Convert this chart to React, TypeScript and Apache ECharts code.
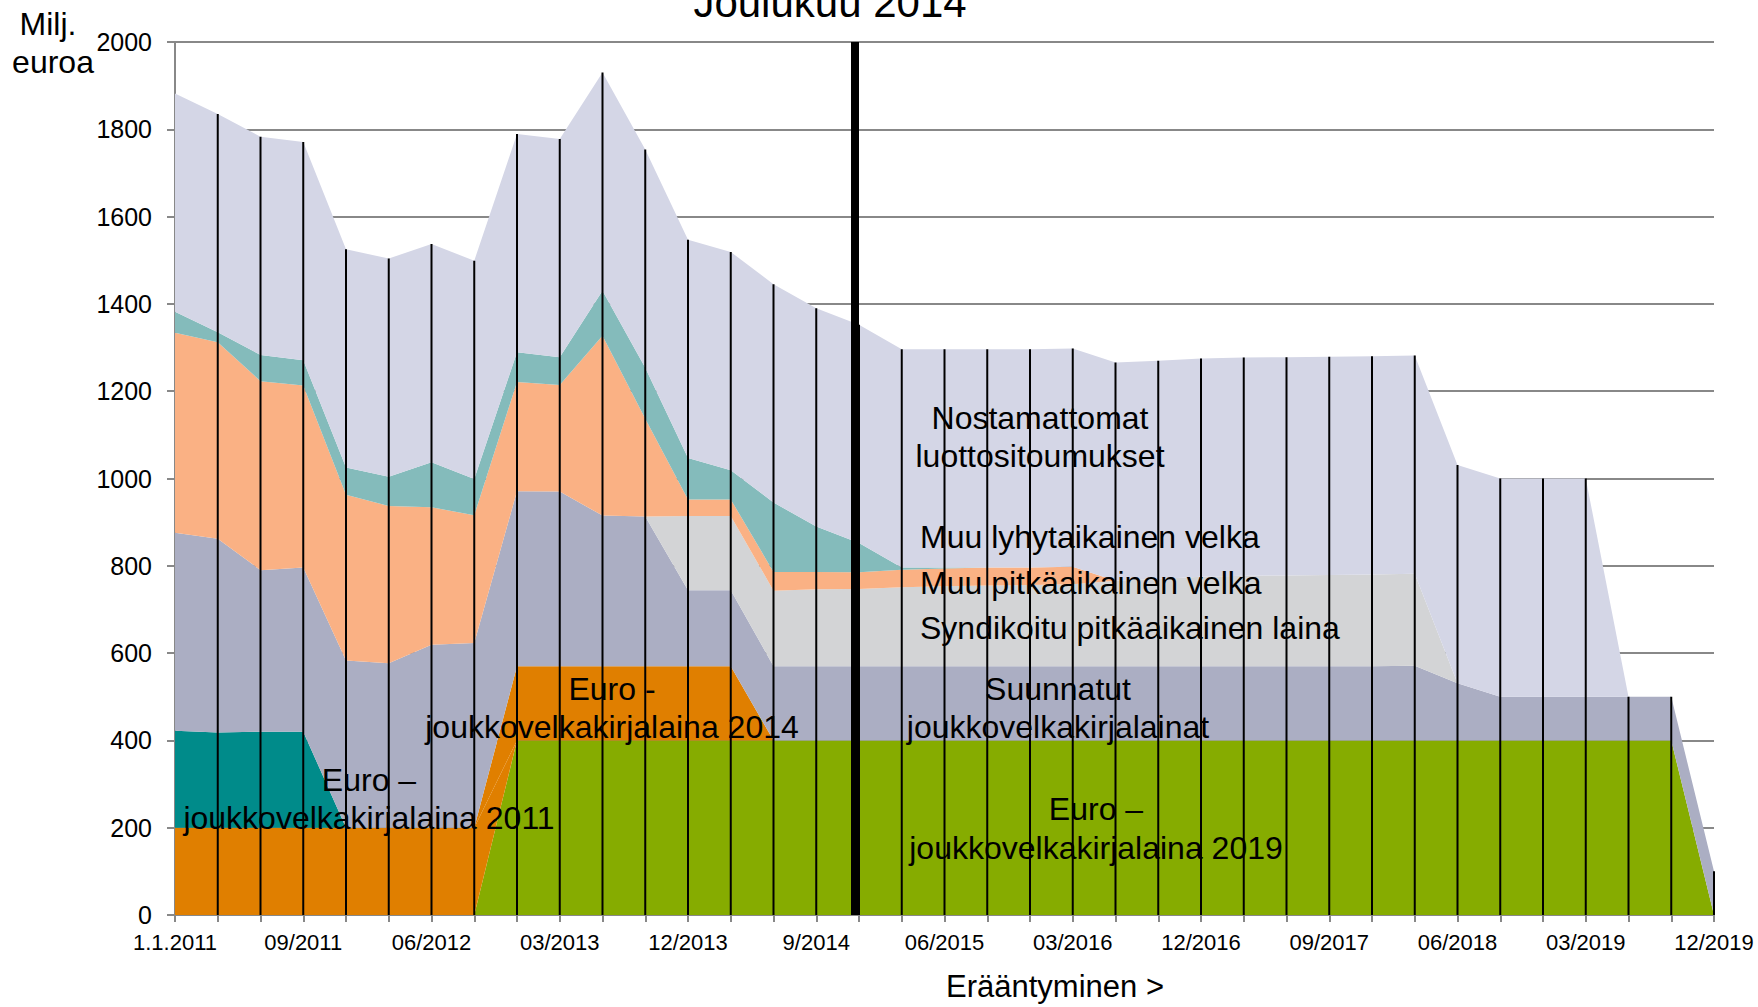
import React, { useEffect, useRef } from "react";
import * as echarts from "echarts";

const FONT = "'Liberation Sans', Arial, sans-serif";

const categories = [
  "1.1.2011", "03/2011", "06/2011", "09/2011", "12/2011",
  "03/2012", "06/2012", "09/2012", "12/2012",
  "03/2013", "06/2013", "09/2013", "12/2013",
  "03/2014", "06/2014", "9/2014", "12/2014",
  "03/2015", "06/2015", "09/2015", "12/2015",
  "03/2016", "06/2016", "09/2016", "12/2016",
  "03/2017", "06/2017", "09/2017", "12/2017",
  "03/2018", "06/2018", "09/2018", "12/2018",
  "03/2019", "06/2019", "09/2019", "12/2019",
];

// Current moment marker (Joulukuu 2014)
const currentCategory = "12/2014";

// Stacked series, bottom to top (Milj. euroa)
const euroBond2019 = [
  0, 0, 0, 0, 0, 0, 0, 0,
  400, 400, 400, 400, 400, 400, 400, 400, 400, 400, 400, 400, 400, 400,
  400, 400, 400, 400, 400, 400, 400, 400, 400, 400, 400, 400, 400, 400,
  0,
];
const euroBond2011 = [
  200, 200, 200, 200, 200, 200, 200, 200,
  0, 0, 0, 0, 0, 0, 0, 0, 0, 0, 0, 0, 0, 0, 0, 0, 0, 0, 0, 0, 0, 0, 0, 0, 0, 0, 0, 0, 0,
];
const euroBond2014 = [
  0, 0, 0, 0, 0, 0, 0, 0,
  170, 170, 170, 170, 170, 170,
  0, 0, 0, 0, 0, 0, 0, 0, 0, 0, 0, 0, 0, 0, 0, 0, 0, 0, 0, 0, 0, 0, 0,
];
const otherBonds = [
  222, 218, 220, 220,
  0, 0, 0, 0, 0, 0, 0, 0, 0, 0, 0, 0, 0, 0, 0, 0, 0, 0, 0, 0, 0, 0, 0, 0, 0, 0, 0, 0, 0, 0, 0, 0, 0,
];
const directedBonds = [
  454, 444, 370, 376, 383, 377, 419, 423, 401, 400, 345, 343, 174, 174,
  170, 170, 170, 170, 170, 170, 170, 170, 170, 170, 170, 170, 170, 170, 170, 171,
  131, 100, 100, 100, 100, 100, 100,
];
const syndicatedLoan = [
  0, 0, 0, 0, 0, 0, 0, 0, 0, 0, 0, 0,
  170, 170, 173, 176, 177, 181, 183, 185, 186, 188,
  196, 200, 205, 207, 208, 209, 210, 211,
  0, 0, 0, 0, 0, 0, 0,
];
const otherLongTerm = [
  458, 450, 433, 417, 380, 360, 315, 293, 250, 244, 412, 224, 38, 38,
  43, 40, 38, 40, 41, 41, 40, 40,
  0, 0, 0, 0, 0, 0, 0, 0, 0, 0, 0, 0, 0, 0, 0,
];
const otherShortTerm = [
  48, 23, 60, 58, 62, 67, 103, 83, 68, 64, 103, 117, 95, 67, 159, 104, 67, 5, 2,
  0, 0, 0, 0, 0, 0, 0, 0, 0, 0, 0, 0, 0, 0, 0, 0, 0, 0,
];
const undrawnCommitments = [
  500, 500, 500, 500, 500, 500, 500, 500, 500, 500, 500, 500, 500, 500, 500, 500, 500,
  500, 500, 500, 500, 500, 500, 500, 500, 500, 500, 500, 500, 500, 500, 500, 500, 500,
  0, 0, 0,
];

const stackSeries = [
  { name: "Euro – joukkovelkakirjalaina 2019", data: euroBond2019, color: "#86AC00" },
  { name: "Euro – joukkovelkakirjalaina 2011", data: euroBond2011, color: "#E07F00" },
  { name: "Euro - joukkovelkakirjalaina 2014", data: euroBond2014, color: "#E07F00" },
  { name: "Muu joukkovelkakirjalaina", data: otherBonds, color: "#008B8A" },
  { name: "Suunnatut joukkovelkakirjalainat", data: directedBonds, color: "#ABAEC3" },
  { name: "Syndikoitu pitkäaikainen laina", data: syndicatedLoan, color: "#D3D4D6" },
  { name: "Muu pitkäaikainen velka", data: otherLongTerm, color: "#FAB184" },
  { name: "Muu lyhytaikainen velka", data: otherShortTerm, color: "#84BBBB" },
  { name: "Nostamattomat luottositoumukset", data: undrawnCommitments, color: "#D4D6E6" },
];

const yTicks = { min: 0, max: 2000, interval: 200 };

function txt(text: string, x: number, y: number, size: number, align: string = "center") {
  return {
    type: "text",
    x,
    y,
    z: 100,
    silent: true,
    style: {
      text,
      fill: "#000",
      fontSize: size,
      fontFamily: FONT,
      align,
      verticalAlign: "middle",
    },
  };
}

export default function App() {
  const ref = useRef<HTMLDivElement>(null);

  useEffect(() => {
    if (!ref.current) return;
    const chart = echarts.init(ref.current, undefined, { renderer: "svg" });

    const totals = categories.map((_, i) =>
      stackSeries.reduce((s, ser) => s + ser.data[i], 0)
    );
    const curIdx = categories.indexOf(currentCategory);

    const areaSeries = stackSeries.map((s) => ({
      name: s.name,
      type: "line",
      stack: "total",
      data: s.data,
      symbol: "none",
      silent: true,
      lineStyle: { width: 0, color: s.color },
      itemStyle: { color: s.color },
      areaStyle: { color: s.color, opacity: 1 },
      z: 2,
    }));

    const dropLines = {
      type: "custom",
      silent: true,
      z: 5,
      data: totals.map((t, i) => [i, t]).filter((d) => d[0] > 0),
      renderItem: (params: any, api: any) => {
        const i = api.value(0);
        const t = api.value(1);
        const p0 = api.coord([i, 0]);
        const p1 = api.coord([i, t]);
        return {
          type: "line",
          shape: { x1: p0[0], y1: p0[1], x2: p1[0], y2: p1[1] },
          style: { stroke: "#000", lineWidth: 2 },
        };
      },
    };

    const nowLine = {
      type: "custom",
      silent: true,
      z: 6,
      data: [[curIdx, yTicks.max]],
      renderItem: (params: any, api: any) => {
        const i = api.value(0);
        const top = api.coord([i, api.value(1)]);
        const bottom = api.coord([i, 0]);
        return {
          type: "rect",
          shape: { x: top[0] - 8, y: top[1], width: 8, height: bottom[1] - top[1] },
          style: { fill: "#000" },
        };
      },
    };

    const option: any = {
      animation: false,
      textStyle: { fontFamily: FONT },
      grid: { left: 175, right: 44, top: 42, bottom: 92, containLabel: false },
      xAxis: {
        type: "category",
        data: categories,
        boundaryGap: false,
        axisLine: { lineStyle: { color: "#888888", width: 2 } },
        axisTick: { interval: 0, length: 7, lineStyle: { color: "#888888", width: 2 } },
        axisLabel: { interval: 2, color: "#000", fontSize: 22, margin: 16, fontFamily: FONT },
        splitLine: { show: false },
      },
      yAxis: {
        type: "value",
        min: yTicks.min,
        max: yTicks.max,
        interval: yTicks.interval,
        axisLine: { show: true, lineStyle: { color: "#888888", width: 2 } },
        axisTick: { show: true, length: 8, lineStyle: { color: "#888888", width: 2 } },
        axisLabel: {
          color: "#000",
          fontSize: 25,
          margin: 23,
          fontFamily: FONT,
          formatter: (v: number) => String(v),
        },
        splitLine: { show: true, lineStyle: { color: "#888888", width: 2 } },
      },
      series: [...areaSeries, dropLines, nowLine],
      graphic: [
        txt("Joulukuu 2014", 830, 2, 42),
        txt("Milj.", 48, 24, 32),
        txt("euroa", 53, 62, 32),
        txt("Erääntyminen >", 1055, 986, 31),
        txt("Nostamattomat", 1040, 418, 32),
        txt("luottositoumukset", 1040, 456, 32),
        txt("Muu lyhytaikainen velka", 920, 537, 32, "left"),
        txt("Muu pitkäaikainen velka", 920, 583, 32, "left"),
        txt("Syndikoitu pitkäaikainen laina", 920, 628, 32, "left"),
        txt("Suunnatut", 1058, 689, 32),
        txt("joukkovelkakirjalainat", 1058, 727, 32),
        txt("Euro –", 1096, 809, 32),
        txt("joukkovelkakirjalaina 2019", 1096, 848, 32),
        txt("Euro -", 612, 689, 32),
        txt("joukkovelkakirjalaina 2014", 612, 727, 32),
        txt("Euro –", 369, 780, 32),
        txt("joukkovelkakirjalaina 2011", 369, 818, 32),
      ],
    };

    chart.setOption(option);
    return () => chart.dispose();
  }, []);

  return (
    <div
      ref={ref}
      style={{ position: "fixed", left: 0, top: 0, width: 1758, height: 1007, background: "#fff" }}
    />
  );
}
